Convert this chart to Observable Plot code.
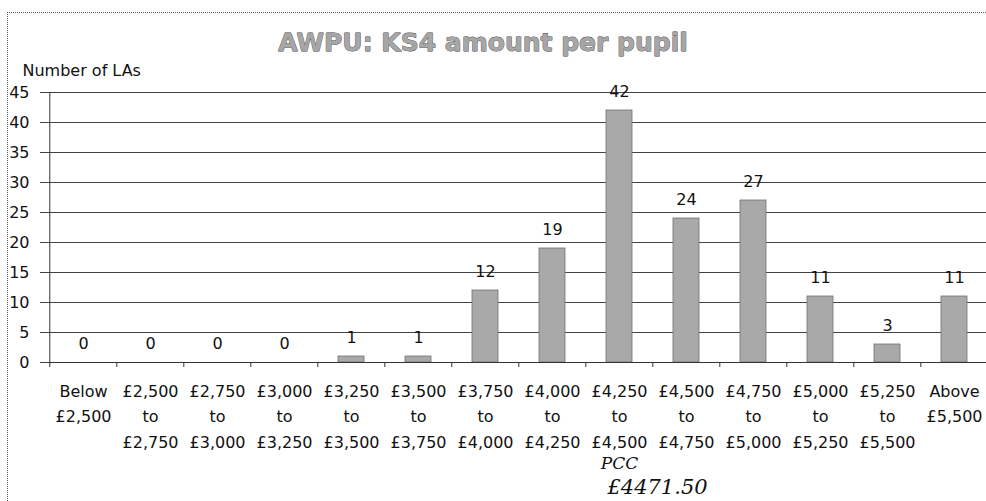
<!DOCTYPE html>
<html>
<head>
<meta charset="utf-8">
<script src="https://cdn.jsdelivr.net/npm/d3@7"></script>
<script src="https://cdn.jsdelivr.net/npm/@observablehq/plot@0.6"></script>
<style>
  html, body { margin: 0; padding: 0; background: #fff; overflow: hidden; }
  #wrap { position: relative; width: 986px; height: 501px; }
  #border { position: absolute; left: 7px; top: 12px; right: -2px; bottom: -2px;
            border-left: 1px dotted #555; border-top: 1px dotted #555; pointer-events: none; }
  #chart { position: absolute; left: 0; top: 0; }
</style>
</head>
<body>
<div id="wrap"><div id="border"></div><div id="chart"></div></div>
<script>
const title = "AWPU: KS4 amount per pupil";
const yLabel = "Number of LAs";
const categories = [
  "Below\n£2,500",
  "£2,500\nto\n£2,750",
  "£2,750\nto\n£3,000",
  "£3,000\nto\n£3,250",
  "£3,250\nto\n£3,500",
  "£3,500\nto\n£3,750",
  "£3,750\nto\n£4,000",
  "£4,000\nto\n£4,250",
  "£4,250\nto\n£4,500",
  "£4,500\nto\n£4,750",
  "£4,750\nto\n£5,000",
  "£5,000\nto\n£5,250",
  "£5,250\nto\n£5,500",
  "Above\n£5,500"
];
const counts = [0, 0, 0, 0, 1, 1, 12, 19, 42, 24, 27, 11, 3, 11];
const yTicks = [0, 5, 10, 15, 20, 25, 30, 35, 40, 45];
const noteCategory = "£4,250\nto\n£4,500";
const noteLines = ["PCC", "£4471.50"];

const data = categories.map((c, i) => ({cat: c, n: counts[i]}));
const half = 33.7; // half a category step in px

const font = "DejaVu Sans, sans-serif";
const chart = Plot.plot({
  width: 986,
  height: 501,
  marginTop: 92,
  marginBottom: 139,
  marginLeft: 47,
  marginRight: -4,
  style: {fontFamily: font, fontSize: "16px", color: "#111", background: "transparent", overflow: "visible"},
  x: {domain: categories, paddingInner: 0.61, paddingOuter: 0.305, axis: null},
  y: {domain: [0, 45], axis: null},
  marks: [
    Plot.gridY(yTicks, {stroke: "#222", strokeOpacity: 0.85, strokeWidth: 1, insetLeft: -7}),
    Plot.axisY(yTicks, {tickSize: 0, tickPadding: 18, label: null, fontSize: 16, fill: "#111"}),
    Plot.ruleX([categories[0]], {dx: -half, y1: 0, y2: 45, stroke: "#333"}),
    Plot.ruleX(categories, {dx: -half, y1: 0, y2: 0, insetBottom: -5, stroke: "#333"}),
    Plot.barY(data, {x: "cat", y: "n", fill: "#a9a9a9", stroke: "#707070", strokeWidth: 0.8}),
    Plot.ruleY([0], {stroke: "#333"}),
    Plot.text(data, {x: "cat", y: "n", text: d => String(d.n), dy: -19, fontSize: 16, fill: "#111"}),
    Plot.text(data, {x: "cat", y: 0, text: "cat", lineAnchor: "top", dy: 16, lineHeight: 1.6, fontSize: 16, fill: "#111"}),
    Plot.text([title], {frameAnchor: "top", dx: -36, dy: -50, textAnchor: "middle", lineAnchor: "middle",
      fontSize: 25, fontWeight: "bold", fill: "#a6a6a6", stroke: "#444", strokeWidth: 0.8}),
    Plot.text([yLabel], {frameAnchor: "top-left", dx: -25, dy: -22, textAnchor: "start", lineAnchor: "middle", fontSize: 16, fill: "#111"}),
    Plot.text([noteLines[0]], {x: () => noteCategory, y: () => 0, dx: 0, dy: 101, fontSize: 17, fontStyle: "italic", fill: "#111", fontFamily: "DejaVu Serif"}),
    Plot.text([noteLines[1]], {x: () => noteCategory, y: () => 0, dx: 38, dy: 125, fontSize: 21, fontStyle: "italic", fill: "#111", fontFamily: "DejaVu Serif"})
  ]
});
document.getElementById("chart").appendChild(chart);
</script>
</body>
</html>
